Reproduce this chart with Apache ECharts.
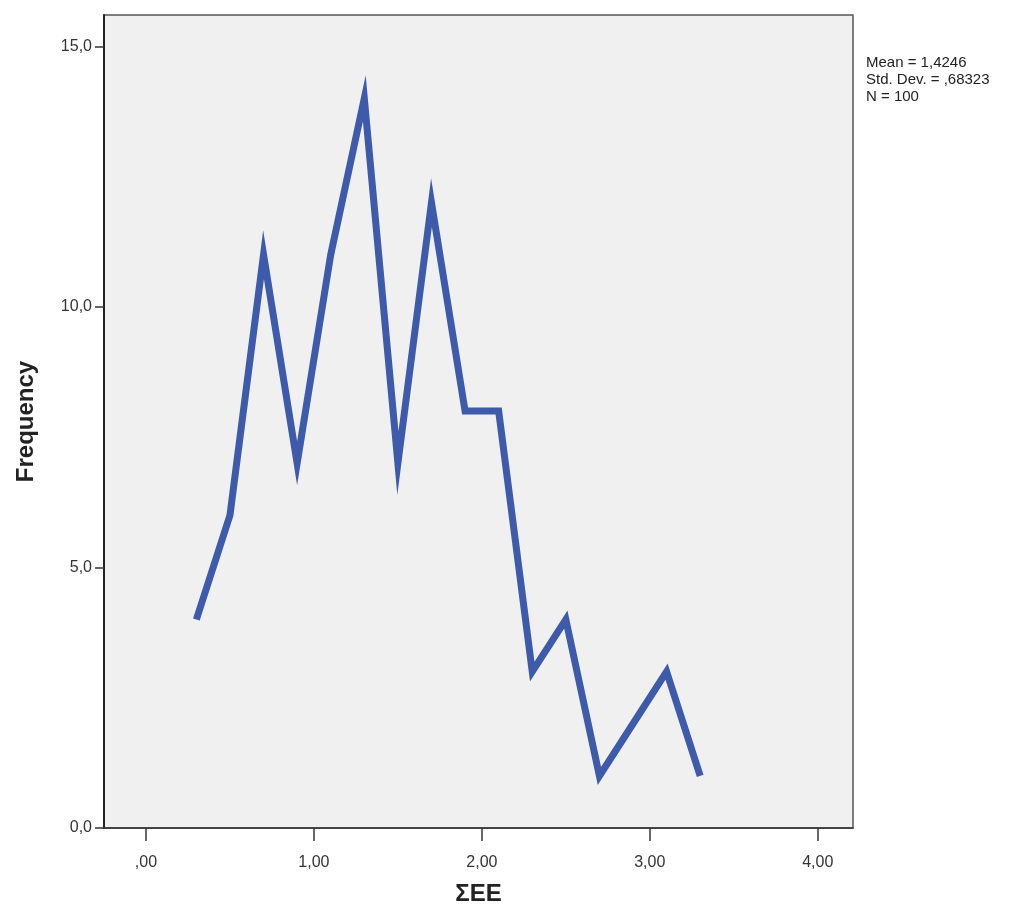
<!DOCTYPE html>
<html>
<head>
<meta charset="utf-8">
<script src="https://cdn.jsdelivr.net/npm/echarts@6/dist/echarts.min.js"></script>
<style>
  html, body { margin: 0; padding: 0; background: #fff; }
  #chart { width: 1035px; height: 909px; }
</style>
</head>
<body>
<div id="chart"></div>
<script>
// bin midpoints of ΣΕΕ and their counts
var binMids = [0.3, 0.5, 0.7, 0.9, 1.1, 1.3, 1.5, 1.7, 1.9, 2.1, 2.3, 2.5, 2.7, 2.9, 3.1, 3.3];
var freqs = [4, 6, 11, 7, 11, 14, 7, 12, 8, 8, 3, 4, 1, 2, 3, 1];
var xTicks = [0, 1, 2, 3, 4];
var yTicks = [0, 5, 10, 15];
var stats = ["Mean = 1,4246", "Std. Dev. = ,68323", "N = 100"];

var myChart = echarts.init(document.getElementById("chart"));

var points = [];
for (var i = 0; i < binMids.length; i++) {
  points.push([binMids[i], freqs[i]]);
}

// SPSS style: decimal comma, x labels drop the leading zero
function xLabel(v) {
  var s = v.toFixed(2).replace(".", ",");
  if (s.indexOf("0,") === 0) s = s.substring(1);
  return s;
}
function yLabel(v) {
  return v.toFixed(1).replace(".", ",");
}

var option = {
  backgroundColor: "#fff",
  animation: false,
  grid: {
    left: 104,
    right: 182,
    top: 15,
    bottom: 81,
    containLabel: false,
    outerBoundsMode: "none",
    show: true,
    backgroundColor: "#f0f0f0",
    borderColor: "#555",
    borderWidth: 1.5
  },
  xAxis: {
    type: "value",
    min: -0.25,
    max: 4.21,
    name: "ΣΕΕ",
    nameLocation: "middle",
    nameGap: 54,
    nameTextStyle: {
      fontFamily: "Liberation Sans",
      fontWeight: "bold",
      fontSize: 24,
      color: "#222"
    },
    splitLine: { show: false },
    axisLine: { show: true, onZero: false, lineStyle: { color: "#333", width: 1.5 } },
    axisTick: {
      show: true,
      length: 13,
      customValues: xTicks,
      lineStyle: { color: "#333", width: 1.5 }
    },
    axisLabel: {
      customValues: xTicks,
      margin: 27,
      fontFamily: "Liberation Sans",
      fontSize: 16,
      color: "#333",
      formatter: xLabel
    }
  },
  yAxis: {
    type: "value",
    min: 0,
    max: 15.6,
    name: "Frequency",
    nameLocation: "middle",
    nameGap: 66,
    nameTextStyle: {
      fontFamily: "Liberation Sans",
      fontWeight: "bold",
      fontSize: 24,
      color: "#222"
    },
    splitLine: { show: false },
    axisLine: { show: true, onZero: false, lineStyle: { color: "#222", width: 2 } },
    axisTick: {
      show: true,
      length: 9,
      customValues: yTicks,
      lineStyle: { color: "#333", width: 1.5 }
    },
    axisLabel: {
      customValues: yTicks,
      margin: 12,
      fontFamily: "Liberation Sans",
      fontSize: 16,
      color: "#333",
      formatter: yLabel
    }
  },
  graphic: [
    {
      type: "text",
      left: 866,
      top: 54,
      style: {
        text: stats.join("\n"),
        fontFamily: "Liberation Sans",
        fontSize: 15,
        lineHeight: 17,
        fill: "#222"
      }
    }
  ],
  series: [
    {
      type: "line",
      data: points,
      symbol: "none",
      lineStyle: { color: "#3d5aab", width: 7, join: "miter" },
      z: 3
    }
  ]
};

myChart.setOption(option);
</script>
</body>
</html>
